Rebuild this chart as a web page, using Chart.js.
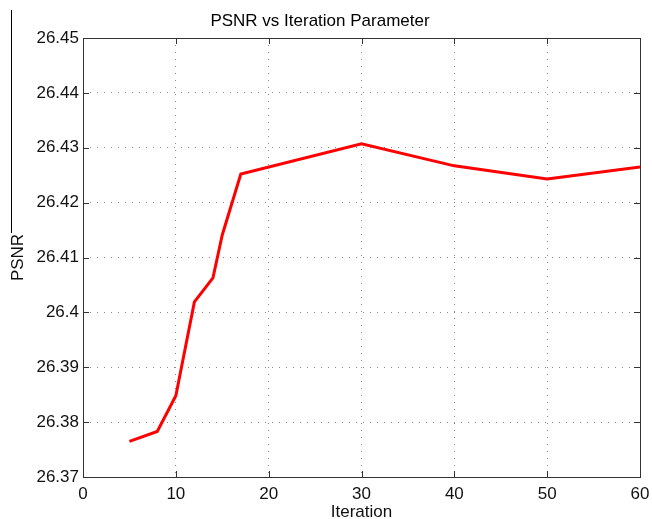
<!DOCTYPE html>
<html>
<head>
<meta charset="utf-8">
<title>PSNR vs Iteration Parameter</title>
<script src="https://cdn.jsdelivr.net/npm/chart.js@4/dist/chart.umd.min.js"></script>
<style>
  html, body { margin: 0; padding: 0; background: #fff; }
  #wrap { width: 652px; height: 519px; position: relative; }
</style>
</head>
<body>
<div id="wrap"><canvas id="chart"></canvas></div>
<script>
const iterations = [5, 8, 10, 12, 14, 15, 17, 30, 40, 50, 60];
const psnrValues = [26.3765, 26.3783, 26.3848, 26.4019, 26.4063, 26.4141, 26.4252, 26.4307, 26.4267, 26.4243, 26.4265];
const xTicks = [0, 10, 20, 30, 40, 50, 60];
const yTicks = [26.37, 26.38, 26.39, 26.40, 26.41, 26.42, 26.43, 26.44, 26.45];

const FONT = "'Liberation Sans', Arial, Helvetica, sans-serif";
const TICK_LEN = 6;

// box round the plot, inward ticks on all four sides, and the stray rule at the left edge
const matlabAxes = {
  id: "matlabAxes",
  afterDatasetsDraw(chart) {
    const { ctx, chartArea: a, scales } = chart;
    ctx.save();
    ctx.strokeStyle = "#333";
    ctx.lineWidth = 1;
    ctx.beginPath();
    xTicks.forEach((v) => {
      const px = Math.round(scales.x.getPixelForValue(v)) + 0.5;
      ctx.moveTo(px, a.bottom); ctx.lineTo(px, a.bottom - TICK_LEN);
      ctx.moveTo(px, a.top); ctx.lineTo(px, a.top + TICK_LEN);
    });
    yTicks.forEach((v) => {
      const py = Math.round(scales.y.getPixelForValue(v)) + 0.5;
      ctx.moveTo(a.left, py); ctx.lineTo(a.left + TICK_LEN, py);
      ctx.moveTo(a.right, py); ctx.lineTo(a.right - TICK_LEN, py);
    });
    ctx.stroke();
    ctx.strokeRect(Math.round(a.left) + 0.5, Math.round(a.top) + 0.5,
      Math.round(a.right - a.left), Math.round(a.bottom - a.top));
    ctx.strokeStyle = "#000";
    ctx.beginPath();
    ctx.moveTo(11.5, 10);
    ctx.lineTo(11.5, 233);
    ctx.stroke();
    ctx.restore();
  }
};

new Chart(document.getElementById("chart"), {
  type: "line",
  data: {
    datasets: [
      {
        label: "PSNR",
        data: iterations.map((x, i) => ({ x, y: psnrValues[i] })),
        borderColor: "#ff0000",
        borderWidth: 3,
        pointRadius: 0,
        tension: 0,
        fill: false
      }
    ]
  },
  options: {
    responsive: true,
    maintainAspectRatio: false,
    animation: false,
    layout: { padding: { left: 0, right: 12, top: 0, bottom: 0 } },
    plugins: {
      legend: { display: false },
      tooltip: { enabled: false },
      title: {
        display: true,
        text: "PSNR vs Iteration Parameter",
        color: "#000",
        font: { family: FONT, size: 17, weight: "normal", lineHeight: 1.2 },
        padding: { top: 11, bottom: 6.6 }
      }
    },
    scales: {
      x: {
        type: "linear",
        min: 0,
        max: 60,
        afterBuildTicks: (scale) => { scale.ticks = xTicks.map((value) => ({ value })); },
        afterFit: (scale) => {
          scale.height = 42;
          scale.paddingLeft = 0;
          scale.paddingRight = 0;
        },
        ticks: { color: "#111", padding: 7, font: { family: FONT, size: 17 } },
        grid: { color: "#8a8a8a", drawTicks: false },
        border: { display: false, dash: [1, 6] },
        title: {
          display: true,
          text: "Iteration",
          color: "#111",
          font: { family: FONT, size: 17, lineHeight: 1 },
          padding: { top: 0, bottom: -2 }
        }
      },
      y: {
        min: 26.37,
        max: 26.45,
        afterBuildTicks: (scale) => { scale.ticks = yTicks.map((value) => ({ value })); },
        afterFit: (scale) => {
          scale.width = 83;
          scale.paddingTop = 0;
          scale.paddingBottom = 0;
        },
        ticks: {
          color: "#111",
          padding: 4,
          font: { family: FONT, size: 17 },
          callback: (v) => String(Number(v.toFixed(2)))
        },
        grid: { color: "#8a8a8a", drawTicks: false },
        border: { display: false, dash: [1, 6] },
        title: {
          display: true,
          text: "PSNR",
          color: "#111",
          font: { family: FONT, size: 17, lineHeight: 1.2 },
          padding: { top: 8, bottom: 0 }
        }
      }
    }
  },
  plugins: [matlabAxes]
});
</script>
</body>
</html>
